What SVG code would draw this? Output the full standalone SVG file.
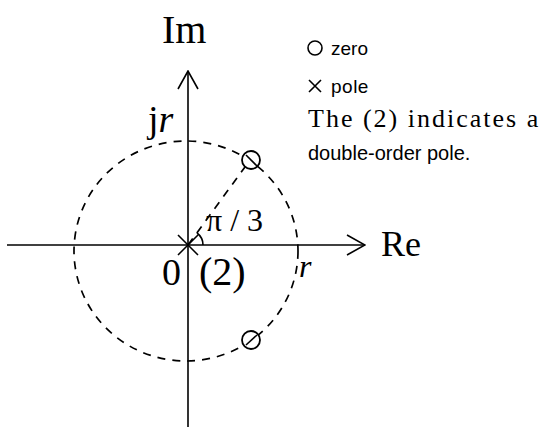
<svg xmlns="http://www.w3.org/2000/svg" width="540" height="428" viewBox="0 0 540 428">
<style>
.ax{stroke:#000;stroke-width:1.6;fill:none}
.dash{stroke:#000;stroke-width:1.7;fill:none;stroke-dasharray:8 7}
.zero{stroke:#000;stroke-width:1.8;fill:#fff}
.serif{font-family:"Liberation Serif","Times New Roman",serif;fill:#000}
.sans{font-family:"Liberation Sans",Arial,sans-serif;fill:#000}
</style>
<defs>
<marker id="open" viewBox="0 0 20 22" refX="19" refY="11" markerWidth="20" markerHeight="22" markerUnits="userSpaceOnUse" orient="auto">
<path d="M1,1 L19,11 L1,21" fill="none" stroke="#000" stroke-width="1.6"/>
</marker>
</defs>
<g id="connectors">
<line id="re-axis" class="ax" x1="7" y1="245" x2="365" y2="245" marker-end="url(#open)"/>
<line id="im-axis" class="ax" x1="188" y1="427" x2="188" y2="71" marker-end="url(#open)"/>
<ellipse id="unit-circle" class="dash" cx="186" cy="251" rx="112" ry="110"/>
<line id="radius" class="dash" x1="188" y1="245" x2="245" y2="167"/>
<path id="angle-arc" class="ax" d="M203,245 A15,15 0 0 0 197,233"/>
</g>
<g id="zero-upper"><circle class="zero" cx="251" cy="160" r="9"/><line class="ax" x1="246" y1="155" x2="257" y2="166"/></g>
<g id="zero-lower"><circle class="zero" cx="251" cy="340" r="9"/><line class="ax" x1="246" y1="345" x2="257" y2="335"/></g>
<g id="pole"><path class="ax" d="M178,235 L198,255 M198,235 L178,255" stroke-width="2"/></g>
<g id="labels">
<text class="serif" x="162" y="43" font-size="40">Im</text>
<text class="serif" x="381" y="256" font-size="36">Re</text>
<text class="serif" x="148" y="132" font-size="38">j<tspan font-style="italic">r</tspan></text>
<text class="serif" x="162" y="285" font-size="38">0</text>
<text class="serif" x="199" y="285" font-size="40">(2)</text>
<text class="serif" x="206" y="231" font-size="32">π / 3</text>
<text class="serif" x="299" y="277" font-size="32" font-style="italic">r</text>
</g>
<g id="legend">
<circle class="ax" cx="315" cy="48" r="7" stroke-width="1.4"/>
<text class="sans" x="331" y="55" font-size="19">zero</text>
<path class="ax" d="M309,80 L321,92 M321,80 L309,92" stroke-width="1.4"/>
<text class="sans" x="331" y="93" font-size="19" letter-spacing="0.5">pole</text>
<text class="serif" x="308" y="127" font-size="26" letter-spacing="2">The (2) indicates a</text>
<text class="sans" x="308" y="160" font-size="20">double-order pole.</text>
</g>
</svg>
